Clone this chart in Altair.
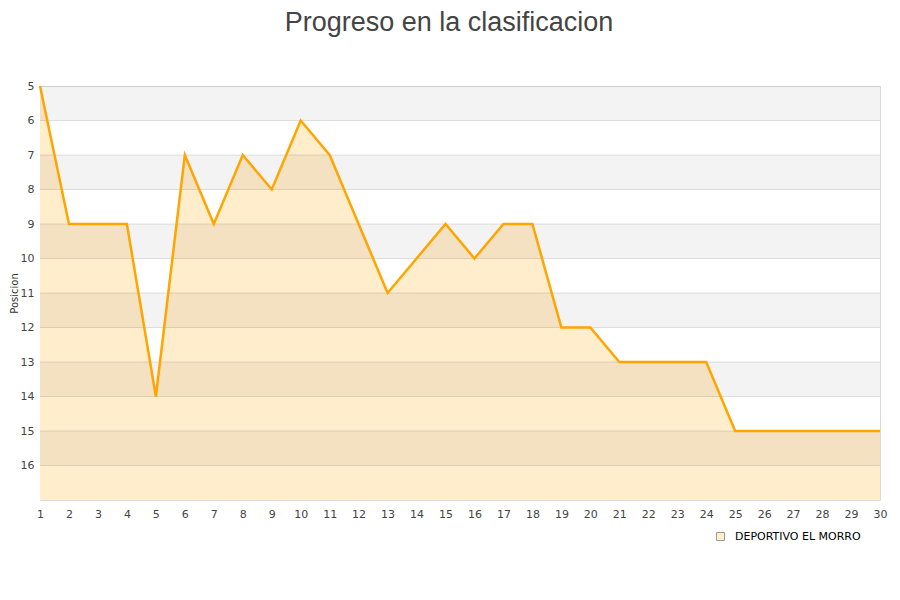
import altair as alt
import pandas as pd

jornadas = list(range(1, 31))
posiciones = [5, 9, 9, 9, 14, 7, 9, 7, 8, 6, 7, 9, 11, 10, 9, 10, 9, 9, 12, 12,
              13, 13, 13, 13, 15, 15, 15, 15, 15, 15]
equipo = "DEPORTIVO EL MORRO"
y_ticks = list(range(5, 17))
band_starts = [5, 7, 9, 11, 13, 15]
y_domain = [5, 17]

df = pd.DataFrame({"jornada": jornadas, "posicion": posiciones,
                   "equipo": [equipo] * len(jornadas), "base": [y_domain[1]] * len(jornadas)})
bands = pd.DataFrame({"y0": band_starts, "y1": [b + 1 for b in band_starts],
                      "xa": [jornadas[0]] * len(band_starts), "xb": [jornadas[-1]] * len(band_starts)})
grid = pd.DataFrame({"g": y_ticks[1:]})

FONT = "DejaVu Sans"
xscale = alt.Scale(domain=[1, 30], nice=False, zero=False)
yscale = alt.Scale(domain=y_domain, reverse=True, nice=False, zero=False)
xaxis = alt.Axis(values=jornadas, format="d", tickSize=0, labelPadding=8, grid=False,
                 domain=False, title=None, labelFlush=False,
                 labelFont=FONT, labelFontSize=11, labelColor="#444")
yaxis = alt.Axis(values=y_ticks, format="d", tickSize=0, labelPadding=6, grid=False,
                 domain=False, title="Posicion", titleFont=FONT, titleFontSize=10,
                 titleFontWeight="normal", titleColor="#333",
                 titleX=-22.5, titleY=207, titleAngle=270, titleAlign="center",
                 titleBaseline="alphabetic", labelFlush=False,
                 labelFont=FONT, labelFontSize=11, labelColor="#444")

area = alt.Chart(df).mark_area(opacity=1).encode(
    x=alt.X("jornada:Q", scale=xscale, axis=xaxis),
    y=alt.Y("posicion:Q", scale=yscale, axis=yaxis),
    y2="base:Q",
    fill=alt.Fill("equipo:N", scale=alt.Scale(range=["#FFEDCC"]),
                  legend=alt.Legend(title=None, orient="none", legendX=675, legendY=445,
                                    symbolType="square", symbolSize=64, labelOffset=9,
                                    symbolStrokeColor="#999", symbolStrokeWidth=1,
                                    labelFont=FONT, labelFontSize=11, labelColor="#000")),
)

band_layer = alt.Chart(bands).mark_rect(color="#000", opacity=0.047).encode(
    x=alt.X("xa:Q", scale=xscale, axis=xaxis),
    x2="xb:Q",
    y=alt.Y("y0:Q", scale=yscale, axis=yaxis),
    y2="y1:Q",
)

grid_layer = alt.Chart(grid).mark_rule(color="#000", opacity=0.11, strokeWidth=1).encode(
    y=alt.Y("g:Q", scale=yscale, axis=yaxis),
)

line = alt.Chart(df).mark_line(color="#FFA500", strokeWidth=2.5).encode(
    x=alt.X("jornada:Q", scale=xscale, axis=xaxis),
    y=alt.Y("posicion:Q", scale=yscale, axis=yaxis),
)

chart = alt.layer(area, band_layer, grid_layer, line).properties(
    width=840, height=414,
    title=alt.TitleParams("Progreso en la clasificacion", font="Liberation Sans",
                          fontSize=27, fontWeight="normal", color="#444",
                          anchor="middle", dx=-11, offset=43),
    autosize=alt.AutoSizeParams(type="none"),
    padding={"left": 32, "top": 78, "right": 12, "bottom": 80},
).configure_view(stroke="#d9d9d9", strokeWidth=1)

chart.save("out.html", embed_options={"renderer": "svg", "actions": False})
